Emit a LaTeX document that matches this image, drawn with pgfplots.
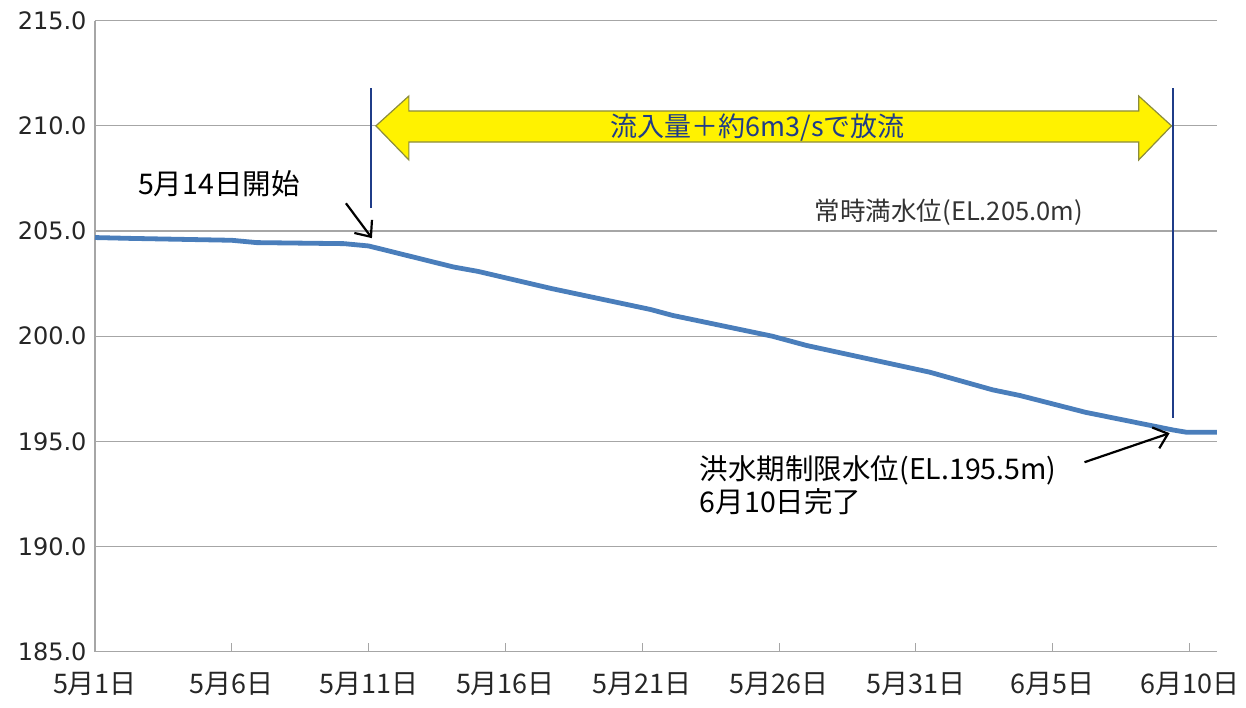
\documentclass[border=0pt]{standalone}
\usepackage{fontspec}
\setmainfont{Noto Sans CJK JP}
\newfontfamily\numfont{DejaVu Sans}
\usepackage{pgfplots}
\pgfplotsset{compat=1.18}
\usetikzlibrary{arrows.meta}
\definecolor{lineblue}{HTML}{4A7EBB}
\definecolor{navyline}{HTML}{1F3C88}
\definecolor{gridgray}{HTML}{A6A6A6}
\definecolor{olivedge}{HTML}{8C8C3C}
\begin{document}
\begin{tikzpicture}
\useasboundingbox (-95pt,-55.3pt) rectangle (1151pt,651.7pt);
\begin{axis}[
 scale only axis, width=1122pt, height=631pt,
 xmin=0, xmax=41, ymin=185, ymax=215,
 axis lines=left, axis line style={-, draw=gridgray, line width=1.2pt},
 ytick={185,190,195,200,205,210,215},
 ymajorgrids, grid style={draw=gridgray, line width=1.2pt},
 xtick={0,5,10,15,20,25,30,35,40},
 xticklabels={5月1日,5月6日,5月11日,5月16日,5月21日,5月26日,5月31日,6月5日,6月10日},
 tick align=inside,
 x tick style={draw=gridgray, line width=1pt},
 major tick length=9pt,
 y tick style={draw=none},
 yticklabel={\pgfmathprintnumber[fixed,fixed zerofill,precision=1]{\tick}},
 /pgf/number format/assume math mode=true,
 yticklabel style={font=\numfont\fontsize{24}{26}\selectfont, text=black!85, xshift=-5pt},
 xticklabel style={font=\fontsize{27}{29}\selectfont, text=black!85, yshift=-17pt},
 clip=false,
]
\addplot[lineblue, line width=4.8pt, line join=round] coordinates {
 (0,204.69) (1.3,204.65) (5.0,204.56) (5.9,204.45) (9.1,204.40) (10.0,204.29)
 (13.1,203.29) (14.0,203.08) (16.7,202.26) (19.9,201.38) (20.3,201.27) (21.1,200.99)
 (24.75,200.0) (26.0,199.56) (30.5,198.29) (32.8,197.45) (33.8,197.18) (36.2,196.38)
 (39.4,195.54) (39.9,195.43) (41,195.43)
};
\filldraw[fill=yellow, draw=olivedge, line width=1.2pt]
 (axis cs:10.265,210) -- (axis cs:11.47,211.42) -- (axis cs:11.47,210.71) -- (axis cs:38.14,210.71)
 -- (axis cs:38.14,211.42) -- (axis cs:39.34,210) -- (axis cs:38.14,208.38) -- (axis cs:38.14,209.23)
 -- (axis cs:11.47,209.23) -- (axis cs:11.47,208.38) -- cycle;
\node[text=navyline, font=\fontsize{27}{30}\selectfont, inner sep=0pt] at (axis cs:24.22,209.93) {流入量＋約6m3/sで放流};
\draw[navyline, line width=2pt] (axis cs:10.08,211.8) -- (axis cs:10.08,206.09);
\draw[navyline, line width=2pt] (axis cs:39.38,211.8) -- (axis cs:39.38,196.10);
\node[anchor=west, inner sep=0pt, font=\fontsize{28.5}{31}\selectfont] at (axis cs:1.57,207.23) {5月14日開始};
\draw[-{Straight Barb[length=13pt,width=22pt]}, line width=2.2pt] (axis cs:9.17,206.32) -- (axis cs:10.12,204.66);
\node[anchor=west, inner sep=0pt, text=black!80, font=\fontsize{25.5}{28}\selectfont] at (axis cs:26.3,205.90) {常時満水位(EL.205.0m)};
\draw[-{Straight Barb[length=13pt,width=22pt]}, line width=2.2pt] (axis cs:36.16,194.01) -- (axis cs:39.27,195.39);
\node[anchor=west, inner sep=0pt, font=\fontsize{28.5}{31}\selectfont] at (axis cs:22.1,193.63) {洪水期制限水位(EL.195.5m)};
\node[anchor=west, inner sep=0pt, font=\fontsize{28.5}{31}\selectfont] at (axis cs:22.1,192.11) {6月10日完了};
\end{axis}
\end{tikzpicture}
\end{document}
